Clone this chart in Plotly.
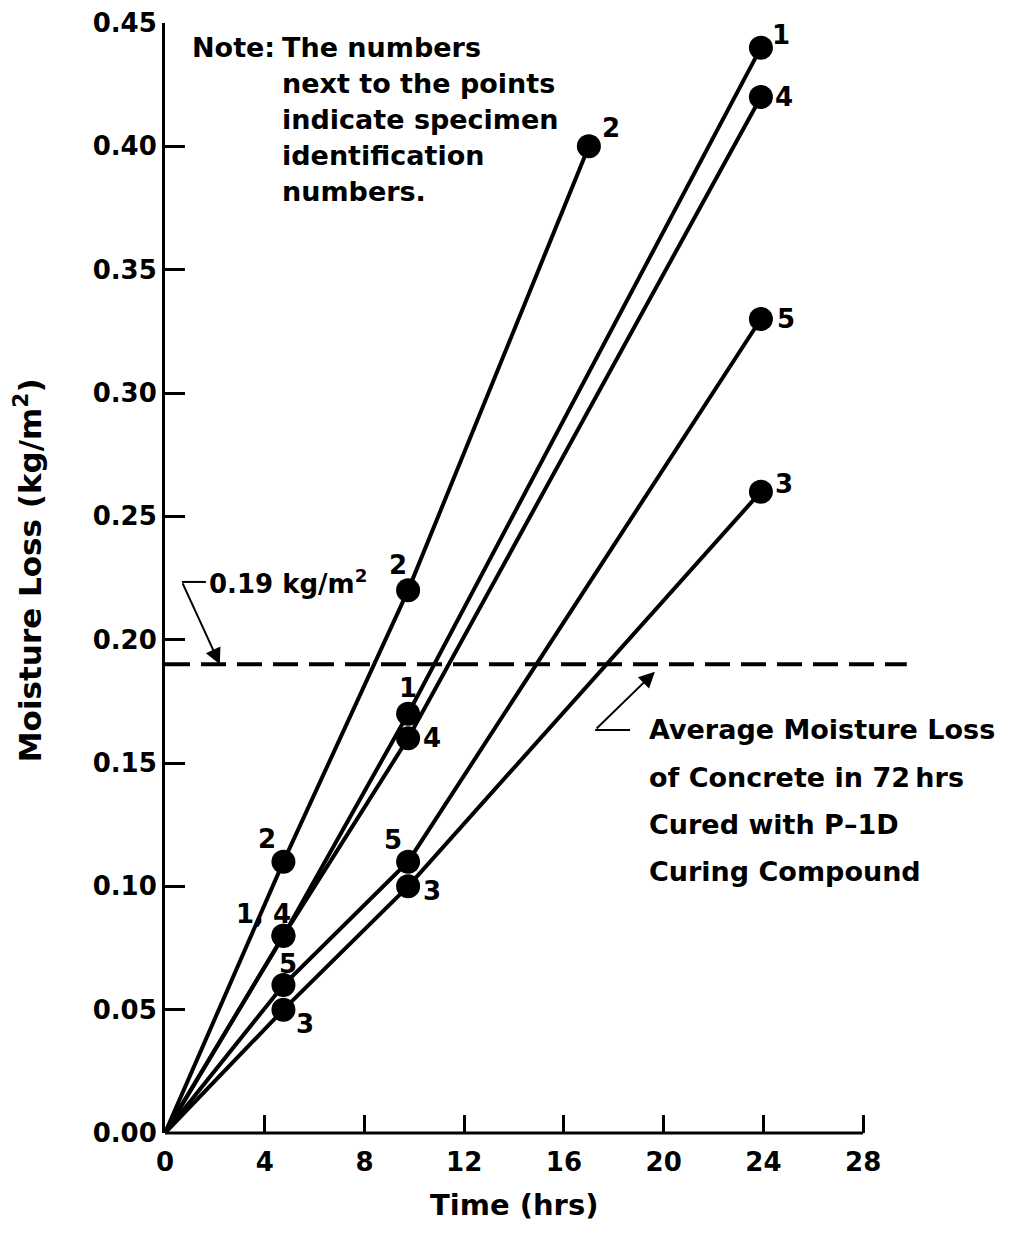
import plotly.graph_objects as go

# ---------------- data ----------------
specimen_ids = ["1", "2", "3", "4", "5"]
time_1 = [0, 4.75, 9.75, 23.9]
loss_1 = [0, 0.08, 0.17, 0.44]
time_2 = [0, 4.75, 9.75, 17.0]
loss_2 = [0, 0.11, 0.22, 0.40]
time_3 = [0, 4.75, 9.75, 23.9]
loss_3 = [0, 0.05, 0.10, 0.26]
time_4 = [0, 4.75, 9.75, 23.9]
loss_4 = [0, 0.08, 0.16, 0.42]
time_5 = [0, 4.75, 9.75, 23.9]
loss_5 = [0, 0.06, 0.11, 0.33]

# labels next to points; shared point at 4.75 h labelled "1, 4"
point_labels_1 = ["", "1, 4", "1", "1"]
point_labels_2 = ["", "2", "2", "2"]
point_labels_3 = ["", "3", "3", "3"]
point_labels_4 = ["", "", "4", "4"]
point_labels_5 = ["", "5", "5", "5"]

avg_loss_72h = 0.19
avg_line_end = 29.75
x_ticks = [0, 4, 8, 12, 16, 20, 24, 28]
y_ticks = [0, 0.05, 0.10, 0.15, 0.20, 0.25, 0.30, 0.35, 0.40, 0.45]

# ---------------- style ----------------
FONT = "DejaVu Sans"
label_offsets = {
    "1": [None, (-20, 22), (0, 26), (20, 13)],
    "2": [None, (-16, 23), (-10, 25), (22, 18)],
    "3": [None, (22, -14), (24, -5), (23, 8)],
    "4": [None, None, (24, 0), (23, 0)],
    "5": [None, (5, 21), (-15, 22), (25, 0)],
}

series = {
    "1": (time_1, loss_1, point_labels_1),
    "2": (time_2, loss_2, point_labels_2),
    "3": (time_3, loss_3, point_labels_3),
    "4": (time_4, loss_4, point_labels_4),
    "5": (time_5, loss_5, point_labels_5),
}


def b(t):
    return "<b>" + t + "</b>"


fig = go.Figure()
annotations = []
for sid in specimen_ids:
    xs, ys, labs = series[sid]
    fig.add_trace(go.Scatter(
        x=xs, y=ys, mode="lines+markers",
        line=dict(color="black", width=4),
        marker=dict(color="black", size=[0] + [24] * (len(xs) - 1), opacity=1,
                    line=dict(width=0)),
        cliponaxis=False, showlegend=False, name="Specimen " + sid,
    ))
    for i, (xv, yv, lab) in enumerate(zip(xs, ys, labs)):
        off = label_offsets[sid][i]
        if lab and off:
            annotations.append(dict(
                x=xv, y=yv, xref="x", yref="y", text=b(lab), showarrow=False,
                xshift=off[0], yshift=off[1],
                font=dict(family=FONT, size=26, color="black"),
            ))

# average moisture loss dashed line
fig.add_shape(type="line", x0=0, x1=avg_line_end, y0=avg_loss_72h, y1=avg_loss_72h,
              xref="x", yref="y", line=dict(color="black", width=4, dash="25px,11px"))

# x-axis line only from 0 to 28
fig.add_shape(type="line", x0=0, x1=28, y0=0, y1=0, xref="x", yref="paper",
              line=dict(color="black", width=3))

# leader for "0.19 kg/m2"
fig.add_shape(type="line", x0=0.68, x1=1.64, y0=0.2234, y1=0.2234, xref="x", yref="y",
              line=dict(color="black", width=2))
annotations.append(dict(x=2.2, y=avg_loss_72h, ax=0.68, ay=0.2234, axref="x", ayref="y",
                        xref="x", yref="y", text="", showarrow=True,
                        arrowhead=2, arrowsize=1.6, arrowwidth=2, arrowcolor="black"))
annotations.append(dict(x=1.7, y=0.2234, xref="x", yref="y", xanchor="left", yanchor="middle",
                        text=b("0.19 kg/m<sup>2</sup>"), showarrow=False,
                        font=dict(family=FONT, size=26, color="black")))

# leader for "Average Moisture Loss..."
fig.add_shape(type="line", x0=17.25, x1=18.65, y0=0.1634, y1=0.1634, xref="x", yref="y",
              line=dict(color="black", width=2))
annotations.append(dict(x=19.65, y=0.187, ax=17.25, ay=0.1634, axref="x", ayref="y",
                        xref="x", yref="y", text="", showarrow=True,
                        arrowhead=2, arrowsize=1.6, arrowwidth=2, arrowcolor="black"))
avg_lines = ["Average Moisture Loss", "of Concrete in 72\u2009hrs", "Cured with P\u20131D", "Curing Compound"]
for k, t in enumerate(avg_lines):
    annotations.append(dict(x=19.33, y=0.1634, xref="x", yref="y", xanchor="left", yanchor="middle",
                            yshift=-47.3 * k, text=b(t), showarrow=False,
                            font=dict(family=FONT, size=27, color="black")))

# note
annotations.append(dict(x=1.0, y=0.45, xref="x", yref="y", xanchor="left", yanchor="middle",
                        yshift=-24, text=b("Note:"), showarrow=False,
                        font=dict(family=FONT, size=27, color="black")))
note_lines = ["The numbers", "next to the points", "indicate specimen", "identification", "numbers."]
for k, t in enumerate(note_lines):
    annotations.append(dict(x=4.6, y=0.45, xref="x", yref="y", xanchor="left", yanchor="middle",
                            yshift=-24 - 36.2 * k, text=b(t), showarrow=False,
                            font=dict(family=FONT, size=27, color="black")))

# axis titles
annotations.append(dict(x=14, y=0, xref="x", yref="paper", yshift=-72, yanchor="middle",
                        text=b("Time (hrs)"), showarrow=False,
                        font=dict(family=FONT, size=29, color="black")))
annotations.append(dict(x=0, y=0.507, xref="x", yref="paper", xshift=-137, xanchor="center",
                        yanchor="middle", textangle=-90,
                        text=b("Moisture Loss (kg/m<sup>2</sup>)"), showarrow=False,
                        font=dict(family=FONT, size=31, color="black")))

fig.update_layout(
    width=1009, height=1236,
    margin=dict(l=157, r=104, t=15, b=111),
    paper_bgcolor="white", plot_bgcolor="white",
    annotations=annotations,
    xaxis=dict(range=[0, 30], tickvals=x_ticks, ticks="inside", ticklen=18, tickwidth=3,
               tickcolor="black", showline=False, showgrid=False, zeroline=False,
               ticklabelstandoff=11, automargin=False,
               tickfont=dict(family=FONT, size=26, color="black", weight="bold")),
    yaxis=dict(range=[0, 0.45], tickvals=y_ticks, tickformat=".2f", ticks="inside",
               ticklen=20, tickwidth=3, tickcolor="black", showline=True, linewidth=3,
               linecolor="black", showgrid=False, zeroline=False, automargin=False,
               tickfont=dict(family=FONT, size=26, color="black", weight="bold")),
)

fig.write_html("out.html")
